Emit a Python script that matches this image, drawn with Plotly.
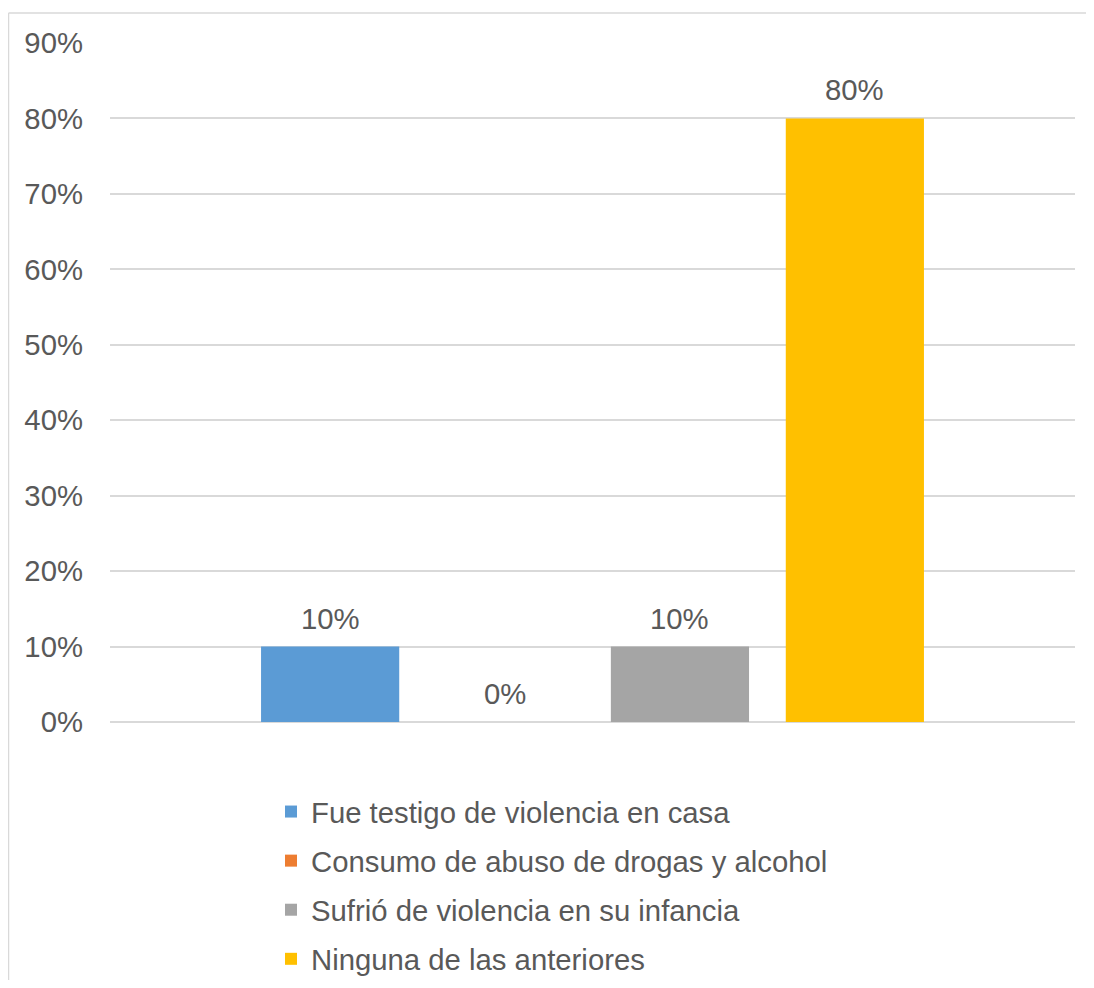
import plotly.graph_objects as go

category = [""]
series_names = [
    "Fue testigo de violencia en casa",
    "Consumo de abuso de drogas y alcohol",
    "Sufrió de violencia en su infancia",
    "Ninguna de las anteriores",
]
series_values = [0.10, 0.00, 0.10, 0.80]
series_colors = ["#5B9BD5", "#ED7D31", "#A5A5A5", "#FFC000"]
y_ticks = [0.0, 0.1, 0.2, 0.3, 0.4, 0.5, 0.6, 0.7, 0.8, 0.9]

OFF = 8  # page body margin
W, H = 1094 - 2 * OFF, 988 - 2 * OFF
# plot area in page pixels: x 110..1075, y 43..722
ML, MT = 110 - OFF, 43 - OFF
MR = W - (1075 - OFF)
MB = H - (722 - OFF)
pw = W - ML - MR
ph = H - MT - MB

def px_x(p):  # page px -> paper
    return (p - OFF - ML) / pw

def px_y(p):
    return (MT + ph - (p - OFF)) / ph

FONT = "Liberation Sans, Arial, sans-serif"
TXT = "#595959"
FS = 29.3

BARGAP = 0.275
n = len(series_names)
slot = (1 - BARGAP) / n

fig = go.Figure()
annotations = []
for i, (name, val, col) in enumerate(zip(series_names, series_values, series_colors)):
    fig.add_trace(go.Bar(
        x=category, y=[val], name=name,
        marker=dict(color=col, line=dict(width=0)),
        legendgroup=f"g{i}",
    ))
    annotations.append(dict(
        x=-(1 - BARGAP) / 2 + slot * (i + 0.5), y=val, xref="x", yref="y",
        text=f"{val:.0%}", showarrow=False, yanchor="bottom", yshift=10,
        font=dict(family=FONT, size=FS, color=TXT),
    ))

border = dict(color="#D9D9D9", width=1.5)
fig.update_layout(
    width=W, height=H,
    margin=dict(l=ML, r=MR, t=MT, b=MB, autoexpand=False),
    paper_bgcolor="white", plot_bgcolor="white",
    barmode="group", bargap=BARGAP, bargroupgap=0.21,
    font=dict(family=FONT, size=FS, color=TXT),
    showlegend=True,
    legend=dict(
        orientation="v", x=px_x(271), xanchor="left",
        y=px_y(786), yanchor="top",
        font=dict(family=FONT, size=FS, color=TXT),
        tracegroupgap=8, bgcolor="rgba(0,0,0,0)", borderwidth=0,
    ),
    xaxis=dict(showticklabels=False, showgrid=False, zeroline=False,
               showline=False, ticks="", range=[-0.5, 0.5]),
    yaxis=dict(range=[0, 0.9], tickvals=y_ticks, tickformat=".0%",
               showgrid=True, gridcolor="#D9D9D9", gridwidth=1.5,
               zeroline=True, zerolinecolor="#D9D9D9", zerolinewidth=1.5,
               showline=False, ticks="", ticklabelstandoff=26,
               tickfont=dict(family=FONT, size=FS, color=TXT)),
    annotations=annotations,
    shapes=[
        dict(type="line", xref="paper", yref="paper",
             x0=px_x(8.5), x1=px_x(1100), y0=px_y(13), y1=px_y(13),
             line=border, layer="below"),
        dict(type="line", xref="paper", yref="paper",
             x0=px_x(8.5), x1=px_x(8.5), y0=px_y(13), y1=px_y(1000),
             line=border, layer="below"),
    ],
)

fig.write_html("out.html")
